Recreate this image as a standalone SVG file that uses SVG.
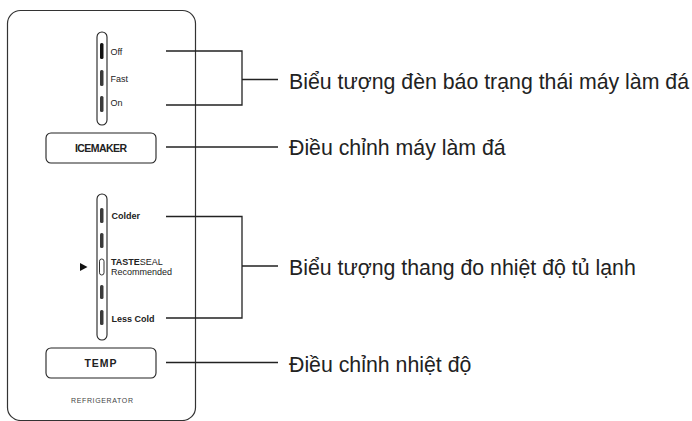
<svg xmlns="http://www.w3.org/2000/svg" width="692" height="421" viewBox="0 0 692 421">
<style>
.panel{fill:#fff;stroke:#333;stroke-width:1.2}
.pill{fill:none;stroke:#222;stroke-width:1.1}
.bar{fill:#3a3a3a}
.btn{fill:#fff;stroke:#222;stroke-width:1.1}
.lbl{font-family:"Liberation Sans",Arial,sans-serif;font-size:9px;fill:#222}
.btxt{font-family:"Liberation Sans",Arial,sans-serif;font-size:10.5px;font-weight:bold;fill:#222;text-anchor:middle}
.big{font-family:"Liberation Sans",Arial,sans-serif;font-size:21.3px;fill:#222}
.conn{fill:none;stroke:#222;stroke-width:1.3}
</style>
<rect width="692" height="421" fill="#fff"/>
<g id="panel">
<rect class="panel" x="7.5" y="10.5" width="188" height="410" rx="13"/>
<text x="102" y="403" font-family="Liberation Sans,Arial,sans-serif" font-size="7px" fill="#444" text-anchor="middle" textLength="62" lengthAdjust="spacing">REFRIGERATOR</text>
</g>
<g id="icemaker-indicator">
<rect class="pill" x="97" y="32" width="10" height="93" rx="5"/>
<rect x="100" y="43" width="3.5" height="16" rx="1.5" fill="#111"/>
<rect class="bar" x="100" y="70" width="3.5" height="16" rx="1.5"/>
<rect class="bar" x="100" y="96" width="3.5" height="16" rx="1.5"/>
<text class="lbl" x="110.5" y="55">Off</text>
<text class="lbl" x="110.5" y="81.5">Fast</text>
<text class="lbl" x="110.5" y="106">On</text>
</g>
<g id="icemaker-button">
<rect class="btn" x="46" y="133" width="110" height="30" rx="5"/>
<text class="btxt" x="101" y="151.5" textLength="52" lengthAdjust="spacing">ICEMAKER</text>
</g>
<g id="temp-scale">
<rect class="pill" x="97" y="194" width="10" height="146" rx="5"/>
<rect class="bar" x="100" y="208" width="3.5" height="15" rx="1.5"/>
<rect class="bar" x="100" y="233" width="3.5" height="15" rx="1.5"/>
<rect x="99.5" y="259" width="4.5" height="16" rx="2.2" fill="none" stroke="#333" stroke-width="1"/>
<rect class="bar" x="100" y="285" width="3.5" height="14" rx="1.5"/>
<rect class="bar" x="100" y="310" width="3.5" height="15" rx="1.5"/>
<polygon points="80,263 87.5,267 80,271" fill="#111"/>
<text class="lbl" x="111.5" y="219" font-weight="bold">Colder</text>
<text class="lbl" x="111" y="265" font-size="6.3px"><tspan font-weight="bold">TASTE</tspan>SEAL</text>
<text class="lbl" x="111" y="274.5" font-size="8.5px">Recommended</text>
<text class="lbl" x="111.5" y="321.5" font-weight="bold">Less Cold</text>
</g>
<g id="temp-button">
<rect class="btn" x="46" y="348" width="110" height="30" rx="5"/>
<text class="btxt" x="101" y="367" font-size="11px" letter-spacing="1">TEMP</text>
</g>
<g id="connectors">
<path class="conn" d="M166,51 H242 V105 H166 M242,79.5 H278"/>
<path class="conn" d="M166,147 H278"/>
<path class="conn" d="M166,216.5 H242 V318 H166 M242,266 H278"/>
<path class="conn" d="M166,362.5 H278"/>
</g>
<g id="label-status"><text class="big" x="289" y="89">Biểu tượng đèn báo trạng thái máy làm đá</text></g>
<g id="label-icemaker"><text class="big" x="289" y="155">Điều chỉnh máy làm đá</text></g>
<g id="label-scale"><text class="big" x="289" y="275">Biểu tượng thang đo nhiệt độ tủ lạnh</text></g>
<g id="label-temp"><text class="big" x="289" y="372">Điều chỉnh nhiệt độ</text></g>
</svg>
